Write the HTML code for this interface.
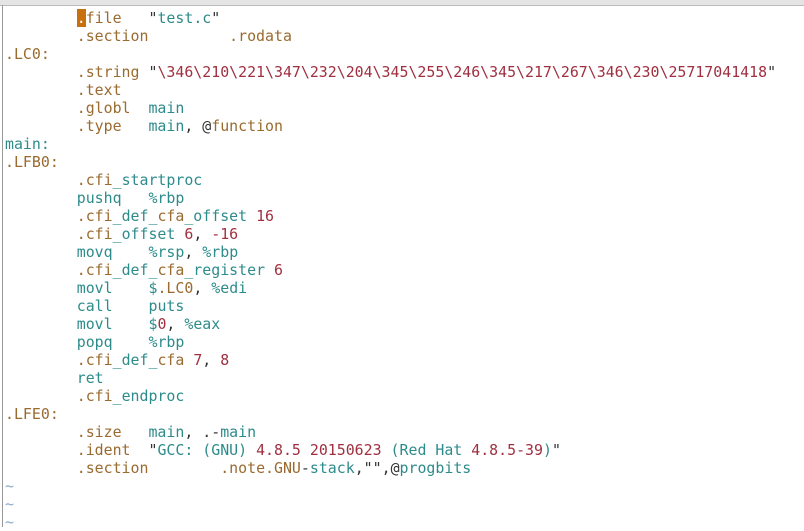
<!DOCTYPE html>
<html><head><meta charset="utf-8"><style>
html,body{margin:0;padding:0;background:#fff;width:804px;height:527px;overflow:hidden}
.top{position:absolute;left:0;top:0;width:804px;height:5px;background:#e4e4e4;border-bottom:1px solid #bbb}
.lb{position:absolute;left:2px;top:5px;width:1px;height:522px;background:#999}
pre{position:absolute;left:5px;top:9px;margin:0;font-family:"DejaVu Sans Mono","Liberation Mono",monospace;font-size:14.9px;line-height:18px;color:#333;letter-spacing:0}
.b{color:#9a6a2e}.t{color:#2e8b8b}.r{color:#a03040}.k{color:#333}.g{color:#8aa8c8}
.c{background:#c87010;color:#fff}
</style></head><body><div class="top"></div><div class="lb"></div>
<pre>        <span class="c">.</span><span class="b">file</span>   <span class="k">"</span><span class="t">test.c</span><span class="k">"</span>
        <span class="b">.section</span>         <span class="b">.rodata</span>
<span class="b">.LC0:</span>
        <span class="b">.string</span> <span class="k">"</span><span class="r">\346\210\221\347\232\204\345\255\246\345\217\267\346\230\25717041418</span><span class="k">"</span>
        <span class="b">.text</span>
        <span class="b">.globl</span>  <span class="t">main</span>
        <span class="b">.type</span>   <span class="t">main</span>, <span class="k">@</span><span class="b">function</span>
<span class="t">main:</span>
<span class="b">.LFB0:</span>
        <span class="b">.cfi</span><span class="t">_startproc</span>
        <span class="t">pushq</span>   <span class="t">%rbp</span>
        <span class="b">.cfi</span><span class="t">_def_</span><span class="b">cfa</span><span class="t">_offset</span> <span class="r">16</span>
        <span class="b">.cfi</span><span class="t">_offset</span> <span class="r">6</span>, <span class="r">-16</span>
        <span class="t">movq</span>    <span class="t">%rsp</span>, <span class="t">%rbp</span>
        <span class="b">.cfi</span><span class="t">_def_</span><span class="b">cfa</span><span class="t">_register</span> <span class="r">6</span>
        <span class="t">movl</span>    <span class="t">$</span><span class="b">.LC0</span>, <span class="t">%edi</span>
        <span class="t">call</span>    <span class="t">puts</span>
        <span class="t">movl</span>    <span class="t">$</span><span class="r">0</span>, <span class="t">%eax</span>
        <span class="t">popq</span>    <span class="t">%rbp</span>
        <span class="b">.cfi</span><span class="t">_def_</span><span class="b">cfa</span> <span class="r">7</span>, <span class="r">8</span>
        <span class="t">ret</span>
        <span class="b">.cfi</span><span class="t">_endproc</span>
<span class="b">.LFE0:</span>
        <span class="b">.size</span>   <span class="t">main</span>, <span class="k">.-</span><span class="t">main</span>
        <span class="b">.ident</span>  <span class="k">"</span><span class="t">GCC: (GNU)</span> <span class="r">4.8.5 20150623</span> <span class="t">(Red Hat</span> <span class="r">4.8.5-39</span><span class="t">)</span><span class="k">"</span>
        <span class="b">.section</span>        <span class="b">.note.GNU</span><span class="k">-</span><span class="t">stack</span>,<span class="k">""</span>,<span class="k">@</span><span class="t">progbits</span>
<span class="g">~</span>
<span class="g">~</span>
<span class="g">~</span></pre>
</body></html>
